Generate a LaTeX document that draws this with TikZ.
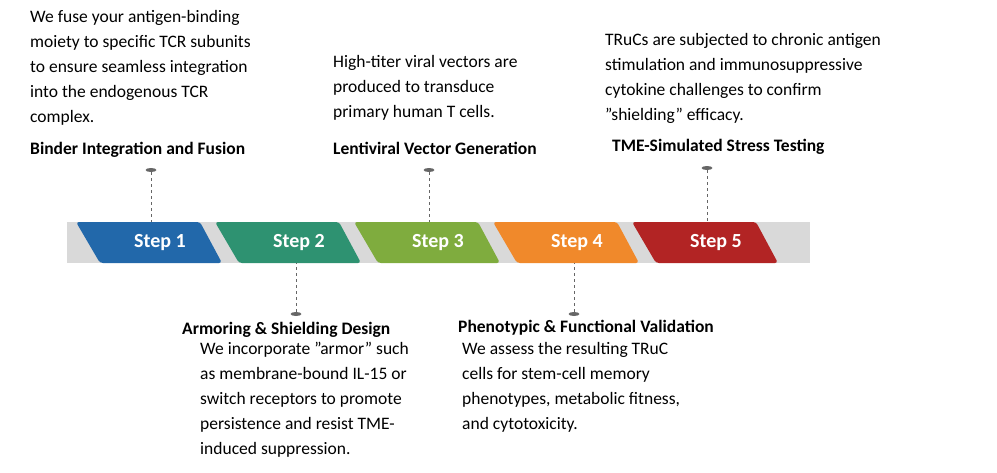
\documentclass[tikz,border=0pt]{standalone}
\usetikzlibrary{shapes.geometric}
\usepackage{fontspec}
\setmainfont{Carlito}
\begin{document}
\begin{tikzpicture}[x=1pt,y=-1pt,
  body/.style={anchor=west,inner sep=0pt,font=\fontsize{17.5}{25}\selectfont,align=left},
  ttl/.style={anchor=west,inner sep=0pt,font=\fontsize{17.5}{21}\selectfont\bfseries},
  lbl/.style={text=white,font=\fontsize{20}{24}\selectfont\bfseries},
  pinline/.style={draw=gray!80!black,dashed,thick},
  pin/.style={ellipse,fill=gray!80!black,minimum width=11pt,minimum height=4pt,inner sep=0pt}]
\useasboundingbox (0,0) rectangle (997,472);
\fill[gray!30] (67,222) rectangle (810,263);
\definecolor{c1}{HTML}{2268AA}\definecolor{c2}{HTML}{2E9271}\definecolor{c3}{HTML}{7FAC3E}
\definecolor{c4}{HTML}{F0892B}\definecolor{c5}{HTML}{B22424}
\foreach \i/\c in {0/c1,1/c2,2/c3,3/c4,4/c5}{
  \pgfmathsetmacro\xa{76+139*\i}
  \fill[\c,rounded corners=3pt] (\xa,222) -- (\xa+124,222) -- (\xa+146,263) -- (\xa+24,263) -- cycle;
}
\foreach \i in {1,...,5}{
  \pgfmathsetmacro\xc{160+139*(\i-1)}
  \node[lbl] (s\i) at (\xc,243) {Step \i};
}
\coordinate (a1) at (151,222); \node[pin] (p1) at (151,170) {};
\coordinate (a2) at (296,263); \node[pin] (p2) at (296,314) {};
\coordinate (a3) at (429,222); \node[pin] (p3) at (429,170) {};
\coordinate (a4) at (574,263); \node[pin] (p4) at (574,314) {};
\coordinate (a5) at (707,222); \node[pin] (p5) at (707,168) {};
\foreach \i in {1,...,5}{\draw[pinline] (p\i) -- (a\i);}
\node[body,anchor=north west] (b1) at (30,10) {We fuse your antigen-binding\\moiety to specific TCR subunits\\to ensure seamless integration\\into the endogenous TCR\\complex.};
\node[ttl] (t1) at (30,150) {Binder Integration and Fusion};
\node[body,anchor=north west] (b3) at (333,55) {High-titer viral vectors are\\produced to transduce\\primary human T cells.};
\node[ttl] (t3) at (333,148) {Lentiviral Vector Generation};
\node[body,anchor=north west] (b5) at (605,33) {TRuCs are subjected to chronic antigen\\stimulation and immunosuppressive\\cytokine challenges to confirm\\"shielding" efficacy.};
\node[ttl] (t5) at (612,147) {TME-Simulated Stress Testing};
\node[ttl] (t2) at (182,330) {Armoring \& Shielding Design};
\node[body,anchor=north west] (b2) at (200,342) {We incorporate "armor" such\\as membrane-bound IL-15 or\\switch receptors to promote\\persistence and resist TME-\\induced suppression.};
\node[ttl] (t4) at (458,328) {Phenotypic \& Functional Validation};
\node[body,anchor=north west] (b4) at (462,342) {We assess the resulting TRuC\\cells for stem-cell memory\\phenotypes, metabolic fitness,\\and cytotoxicity.};
\end{tikzpicture}
\end{document}
